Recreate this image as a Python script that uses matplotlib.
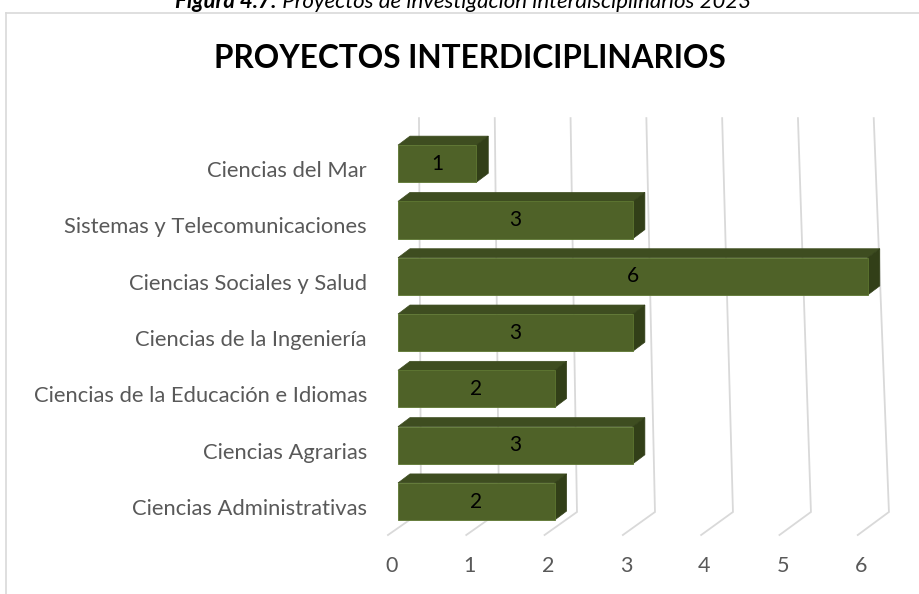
import matplotlib
matplotlib.use("Agg")
import matplotlib.pyplot as plt
from matplotlib.patches import Polygon, Rectangle
from matplotlib.lines import Line2D

# ── Data ────────────────────────────────────────────────
categorias = [
    "Ciencias Administrativas",
    "Ciencias Agrarias",
    "Ciencias de la Educación e Idiomas",
    "Ciencias de la Ingeniería",
    "Ciencias Sociales y Salud",
    "Sistemas y Telecomunicaciones",
    "Ciencias del Mar",
]
proyectos = [2, 3, 2, 3, 6, 3, 1]
ticks = [0, 1, 2, 3, 4, 5, 6]

TITULO = "PROYECTOS INTERDICIPLINARIOS"
FIGURA = "Figura 4.7:"
LEYENDA = " Proyectos de investigación interdisciplinarios 2023"

# ── Style ───────────────────────────────────────────────
FONT = "Lato"
GRAY_TXT = "#595959"
GRID = "#d9d9d9"
FRONT = "#4f6228"
TOP = "#3e4d20"
SIDE = "#323f18"
EDGE = "#5d7630"

BAR_H = 0.66          # bar thickness in category units
DX, DY = 0.153, 0.16  # 3-D depth offset of the bars

# back wall / floor geometry (value units, category units)
WALL_X0, WALL_K = 0.294, 0.996
WALL_TOP_X0, WALL_TOP_K = 0.268, 0.968
FLOOR_X0 = -0.128
Y_WALL_TOP, Y_WALL_BOT, Y_FLOOR = 6.81, -0.186, -0.595

fig = plt.figure(figsize=(9.19, 5.94), dpi=100)
ax = fig.add_axes([0, 0, 1, 1])
ax.set_xlim(-5.083, 6.654)
ax.set_ylim(-1.643, 8.908)
ax.axis("off")

# chart frame
fig.add_artist(Line2D([6 / 919, 6 / 919], [0, 1 - 13 / 594],
                      transform=fig.transFigure, color=GRID, lw=1.2))
fig.add_artist(Line2D([6 / 919, 1], [1 - 13 / 594, 1 - 13 / 594],
                      transform=fig.transFigure, color=GRID, lw=1.2))

# gridlines: back wall verticals plus floor diagonals
for t in ticks:
    xb = WALL_X0 + WALL_K * t
    xt = WALL_TOP_X0 + WALL_TOP_K * t
    xf = FLOOR_X0 + t
    ax.plot([xf, xb, xt], [Y_FLOOR, Y_WALL_BOT, Y_WALL_TOP],
            color=GRID, lw=1.3, zorder=1, solid_joinstyle="miter")
    ax.text(xf + 0.04, -1.15, str(t), ha="center", va="center",
            fontsize=15.5, color=GRAY_TXT, family=FONT)

# 3-D bars
for k, (cat, v) in enumerate(zip(categorias, proyectos)):
    y0, y1 = k - BAR_H / 2, k + BAR_H / 2
    top = Polygon([(0, y1), (v, y1), (v + DX, y1 + DY), (DX, y1 + DY)],
                  closed=True, facecolor=TOP, edgecolor=TOP, lw=0.5, zorder=3)
    side = Polygon([(v, y0), (v + DX, y0 + DY), (v + DX, y1 + DY), (v, y1)],
                   closed=True, facecolor=SIDE, edgecolor=SIDE, lw=0.5, zorder=3)
    front = Rectangle((0, y0), v, BAR_H, facecolor=FRONT, edgecolor=EDGE,
                      lw=0.6, zorder=4)
    for p in (top, side, front):
        ax.add_patch(p)
    ax.text(v / 2, k, str(v), ha="center", va="center", fontsize=15,
            color="black", family=FONT, zorder=5)
    ax.text(-0.396, k - 0.13, cat, ha="right", va="center", fontsize=15.8,
            color=GRAY_TXT, family=FONT)

# title and figure caption
fig.text(470 / 919, 1 - 58 / 594, TITULO, ha="center", va="center",
         fontsize=22.7, fontweight="bold", color="black", family=FONT)
cap = fig.text(175 / 919, 1 - 8 / 594, FIGURA, ha="left", va="baseline",
               fontsize=16, fontweight="bold", style="italic", family=FONT)
fig.canvas.draw()
bb = cap.get_window_extent()
fig.text(bb.x1 / 919, 1 - 8 / 594, LEYENDA, ha="left", va="baseline",
         fontsize=16, style="italic", family=FONT)

fig.savefig("out.png", dpi=100)
